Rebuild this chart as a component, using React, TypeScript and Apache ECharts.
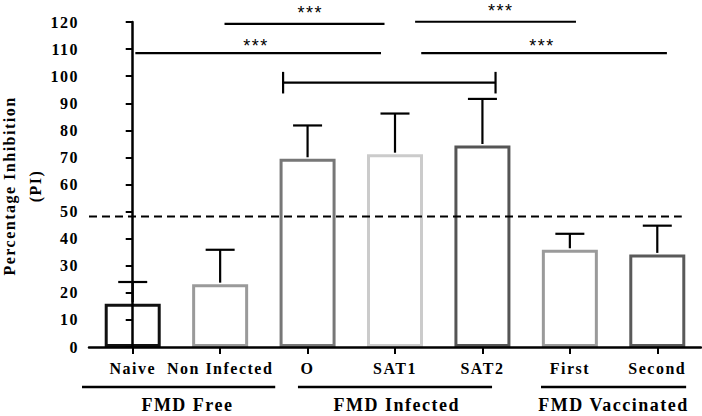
import React, { useEffect, useRef } from "react";
import * as echarts from "echarts";

const categories = ["Naive", "Non Infected", "O", "SAT1", "SAT2", "First", "Second"];
const means = [16, 23.2, 69.5, 71.2, 74.4, 35.9, 34.2];
const upperErrors = [24, 35.9, 81.8, 86.2, 91.6, 41.8, 44.8];
const barColors = ["#111111", "#9a9a9a", "#777777", "#cbcbcb", "#555555", "#9a9a9a", "#5a5a5a"];
const yTicks = { min: 0, max: 120, interval: 10 };

const yTitleLines = ["Percentage Inhibition", "(PI)"];

const cutoffValue = 48.2;
const cutoffSpan = [-0.5, 6.28];

const sigStarts = [1.05, 0.03, 3.23, 3.3];
const sigEnds = [2.88, 2.84, 5.07, 6.11];
const sigLevels = [119.3, 108.5, 120.1, 108.5];
const sigStarX = [2.03, 1.41, 4.21, 4.68];
const sigStarY = [123.2, 111.3, 124.2, 111.3];
const sigLabel = "***";

const bracket = [1.72, 4.15, 97.6];

const groupNames = ["FMD Free", "FMD Infected", "FMD Vaccinated"];
const groupStarts = [-0.58, 1.89, 4.67];
const groupEnds = [1.63, 4.11, 6.33];
const groupLabelX = [0.626, 3.02, 5.5];

const SERIF = "'Liberation Serif', 'Times New Roman', serif";

export default function App() {
  const ref = useRef<HTMLDivElement>(null);
  useEffect(() => {
    if (!ref.current) return;
    const chart = echarts.init(ref.current, null, { renderer: "svg" });
    const option: any = {
      animation: false,
      backgroundColor: "#ffffff",
      grid: { left: 89, right: 1, top: 22, bottom: 69, containLabel: false, outerBoundsMode: "none" },
      graphic: [
        {
          type: "text",
          x: 9.6,
          y: 186,
          rotation: Math.PI / 2,
          style: { text: yTitleLines[0], fill: "#000", font: `bold 16px ${SERIF}`, align: "center", verticalAlign: "middle", lineHeight: 16 },
        },
        {
          type: "text",
          x: 35.5,
          y: 186,
          rotation: Math.PI / 2,
          style: { text: yTitleLines[1], fill: "#000", font: `bold 16px ${SERIF}`, align: "center", verticalAlign: "middle", lineHeight: 16 },
        },
      ],
      xAxis: [
        {
          type: "category",
          data: categories,
          z: 5,
          axisLine: { show: true, lineStyle: { color: "#000", width: 2.5 } },
          axisTick: { show: true, alignWithLabel: true, length: 7, lineStyle: { color: "#000", width: 2 } },
          axisLabel: { color: "#000", fontFamily: SERIF, fontWeight: "bold", fontSize: 16, margin: 13, interval: 0 },
          splitLine: { show: false },
        },
        { type: "value", min: -0.5, max: 6.5, show: false, gridIndex: 0 },
      ],
      yAxis: {
        type: "value",
        min: yTicks.min,
        max: yTicks.max,
        interval: yTicks.interval,
        z: 5,
        axisLine: { show: true, lineStyle: { color: "#000", width: 2.5 } },
        axisTick: { show: true, length: 7, lineStyle: { color: "#000", width: 2 } },
        axisLabel: { color: "#000", fontFamily: SERIF, fontWeight: "bold", fontSize: 16, margin: 10 },
        splitLine: { show: false },
      },
      series: [
        {
          type: "bar",
          barWidth: 56,
          data: means.map((v, i) => ({
            value: v,
            itemStyle: { color: "#ffffff", borderColor: barColors[i], borderWidth: 3 },
          })),
          z: 2,
        },
        {
          type: "custom",
          z: 3,
          data: means.map((m, i) => [i, m, upperErrors[i]]),
          renderItem: (params: any, api: any) => {
            const x = api.value(0);
            const p0 = api.coord([x, api.value(1)]);
            const p1 = api.coord([x, api.value(2)]);
            const hw = 14.5;
            return {
              type: "group",
              children: [
                { type: "line", shape: { x1: p0[0], y1: p0[1] - 1.5, x2: p1[0], y2: p1[1] }, style: { stroke: "#000", lineWidth: 2.2 } },
                { type: "line", shape: { x1: p1[0] - hw, y1: p1[1], x2: p1[0] + hw, y2: p1[1] }, style: { stroke: "#000", lineWidth: 2.2 } },
              ],
            };
          },
        },
        {
          type: "custom",
          xAxisIndex: 1,
          z: 4,
          data: [[cutoffSpan[0], cutoffSpan[1], cutoffValue]],
          renderItem: (params: any, api: any) => {
            const a = api.coord([api.value(0), api.value(2)]);
            const b = api.coord([api.value(1), api.value(2)]);
            return {
              type: "line",
              shape: { x1: a[0], y1: a[1], x2: b[0], y2: b[1] },
              style: { stroke: "#000", lineWidth: 2, lineDash: [8, 5] },
            };
          },
        },
        {
          type: "custom",
          xAxisIndex: 1,
          z: 4,
          data: sigStarts.map((s, i) => [s, sigEnds[i], sigLevels[i], sigStarX[i], sigStarY[i]]),
          renderItem: (params: any, api: any) => {
            const a = api.coord([api.value(0), api.value(2)]);
            const b = api.coord([api.value(1), api.value(2)]);
            const s = api.coord([api.value(3), api.value(4)]);
            return {
              type: "group",
              children: [
                { type: "line", shape: { x1: a[0], y1: a[1], x2: b[0], y2: b[1] }, style: { stroke: "#000", lineWidth: 2.2 } },
                {
                  type: "text",
                  x: s[0],
                  y: s[1],
                  style: {
                    text: sigLabel,
                    fill: "#000",
                    font: "18px 'Liberation Sans', Arial, sans-serif",
                    align: "center",
                    verticalAlign: "middle",
                    lineHeight: 10,
                  },
                },
              ],
            };
          },
        },
        {
          type: "custom",
          xAxisIndex: 1,
          z: 4,
          data: [bracket],
          renderItem: (params: any, api: any) => {
            const a = api.coord([api.value(0), api.value(2)]);
            const b = api.coord([api.value(1), api.value(2)]);
            const h = 10.8;
            const st = { stroke: "#000", lineWidth: 2.2 };
            return {
              type: "group",
              children: [
                { type: "line", shape: { x1: a[0], y1: a[1], x2: b[0], y2: b[1] }, style: st },
                { type: "line", shape: { x1: a[0], y1: a[1] - h, x2: a[0], y2: a[1] + h }, style: st },
                { type: "line", shape: { x1: b[0], y1: b[1] - h, x2: b[0], y2: b[1] + h }, style: st },
              ],
            };
          },
        },
        {
          type: "custom",
          xAxisIndex: 1,
          z: 4,
          data: groupStarts.map((s, i) => [s, groupEnds[i], groupLabelX[i]]),
          renderItem: (params: any, api: any) => {
            const a = api.coord([api.value(0), 0]);
            const b = api.coord([api.value(1), 0]);
            const l = api.coord([api.value(2), 0]);
            const lineY = a[1] + 40;
            return {
              type: "group",
              children: [
                { type: "line", shape: { x1: a[0], y1: lineY, x2: b[0], y2: lineY }, style: { stroke: "#000", lineWidth: 2.5 } },
                {
                  type: "text",
                  x: l[0],
                  y: a[1] + 58,
                  style: {
                    text: groupNames[params.dataIndex],
                    fill: "#000",
                    font: `bold 18px ${SERIF}`,
                    align: "center",
                    verticalAlign: "middle",
                    lineHeight: 18,
                  },
                },
              ],
            };
          },
        },
      ],
    };
    chart.setOption(option);
    return () => chart.dispose();
  }, []);
  return (
    <>
      <style>{`#root svg text { letter-spacing: 1.5px; }`}</style>
      <div ref={ref} style={{ position: "fixed", left: 0, top: 0, width: 702, height: 416, background: "#fff" }} />
    </>
  );
}
